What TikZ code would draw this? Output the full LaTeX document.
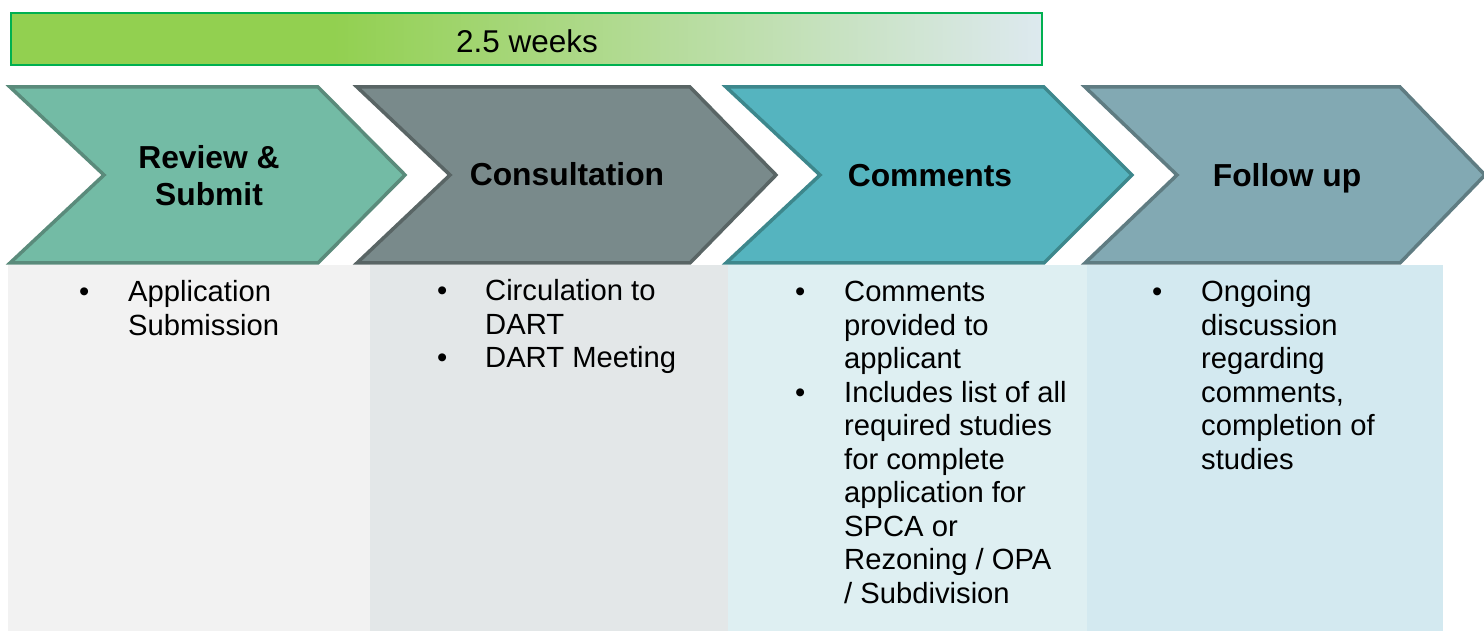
\documentclass[tikz,border=0pt]{standalone}
\usepackage{fontspec}
\setmainfont{Liberation Sans}
\usepackage{array}
\definecolor{barborder}{HTML}{00B050}
\definecolor{bargreen}{HTML}{92D050}
\definecolor{barlight}{HTML}{DDE9EF}
\definecolor{cAfill}{HTML}{73BBA5}
\definecolor{cAline}{HTML}{5A8B7B}
\definecolor{cBfill}{HTML}{798A8B}
\definecolor{cBline}{HTML}{596565}
\definecolor{cCfill}{HTML}{55B4BF}
\definecolor{cCline}{HTML}{3D878C}
\definecolor{cDfill}{HTML}{82A9B3}
\definecolor{cDline}{HTML}{5F7C82}
\definecolor{colA}{HTML}{F2F2F2}
\definecolor{colB}{HTML}{E3E7E8}
\definecolor{colC}{HTML}{DEEFF2}
\definecolor{colD}{HTML}{D3E9F0}
\begin{document}
\begin{tikzpicture}[x=1pt,y=-1pt,
  chev/.style={line width=3.5pt, line join=miter},
  title/.style={font=\fontsize{31.8}{36.5}\selectfont\bfseries, align=center, inner sep=0pt},
  body/.style={font=\fontsize{29.2}{33.5}\selectfont, anchor=north west, inner sep=0pt},
  bartext/.style={font=\fontsize{31.5}{36}\selectfont, anchor=base, inner sep=0pt}]
\useasboundingbox (0,0) rectangle (1484,631);
% columns
\fill[colA] (8,265) rectangle (370,631);
\fill[colB] (370,265) rectangle (728,631);
\fill[colC] (728,265) rectangle (1087,631);
\fill[colD] (1087,265) rectangle (1443,631);
% top bar
\fill[bargreen] (11,13) rectangle (334,65);
\shade[left color=bargreen, right color=barlight] (333,13) rectangle (1042,65);
\draw[barborder, line width=2.6pt] (11,13) rectangle (1042,65);
\node[bartext] (bar) at (527,53) {2.5 weeks};
% chevrons
\filldraw[chev, fill=cAfill, draw=cAline] (10,87) -- (318,87) -- (405,175) -- (318,263) -- (10,263) -- (104,175) -- cycle;
\filldraw[chev, fill=cBfill, draw=cBline] (357,87) -- (690,87) -- (776,175) -- (690,263) -- (357,263) -- (450,175) -- cycle;
\filldraw[chev, fill=cCfill, draw=cCline] (726,87) -- (1044,87) -- (1132,175) -- (1044,263) -- (726,263) -- (820,175) -- cycle;
\filldraw[chev, fill=cDfill, draw=cDline] (1085,87) -- (1400,87) -- (1485,175) -- (1400,263) -- (1085,263) -- (1177,175) -- cycle;
% titles
\node[title] (t1) at (209,175.5) {Review \&\\Submit};
\node[title, anchor=base] (t2) at (567,186) {Consultation};
\node[title, anchor=base] (t3) at (930,186.5) {Comments};
\node[title, anchor=base] (t4) at (1287,186.5) {Follow up};
% body texts
\node[body] (b1) at (79,278) {\begin{tabular}{@{}p{49pt}@{}l@{}}
• & Application\\
  & Submission
\end{tabular}};
\node[body] (b2) at (437,277) {\begin{tabular}{@{}p{48pt}@{}l@{}}
• & Circulation to\\
  & DART\\
• & DART Meeting
\end{tabular}};
\node[body] (b3) at (795,278) {\begin{tabular}{@{}p{49pt}@{}l@{}}
• & Comments\\
  & provided to\\
  & applicant\\
• & Includes list of all\\
  & required studies\\
  & for complete\\
  & application for\\
  & SPCA or\\
  & Rezoning / OPA\\
  & / Subdivision
\end{tabular}};
\node[body] (b4) at (1152,278) {\begin{tabular}{@{}p{49pt}@{}l@{}}
• & Ongoing\\
  & discussion\\
  & regarding\\
  & comments,\\
  & completion of\\
  & studies
\end{tabular}};
\end{tikzpicture}
\end{document}
